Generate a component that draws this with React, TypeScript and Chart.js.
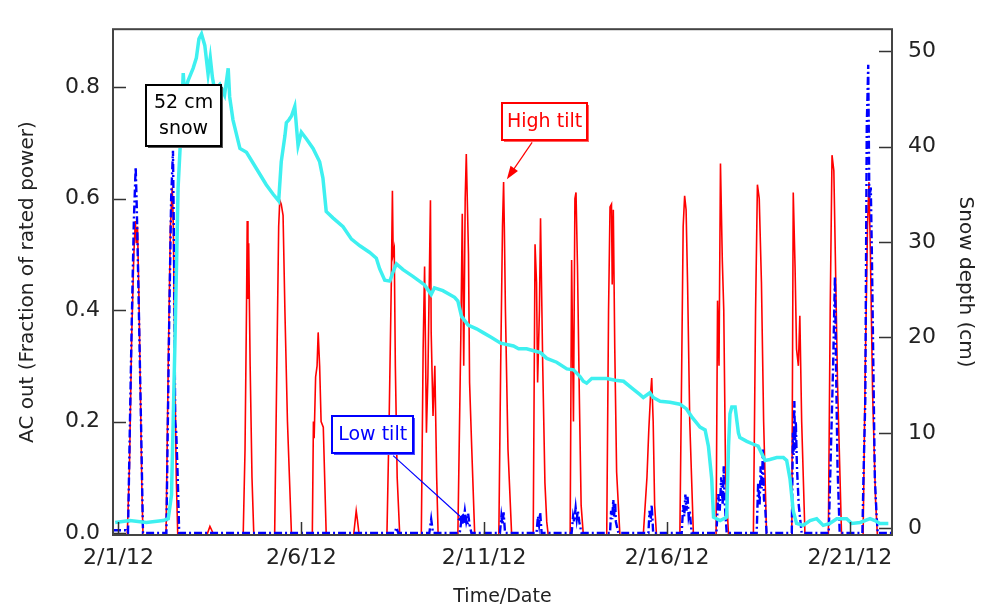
import { useEffect, useRef } from "react";
import { Chart, registerables } from "chart.js";

Chart.register(...registerables);

// ---- Data (x in days since 2/1/12 00:00) ----
const xTickDays = [0, 5, 10, 15, 20];
const xTickLabels = ["2/1/12", "2/6/12", "2/11/12", "2/16/12", "2/21/12"];
const acTicks = [0, 0.2, 0.4, 0.6, 0.8];
const acTickLabels = ["0.0", "0.2", "0.4", "0.6", "0.8"];
const snowTicks = [0, 10, 20, 30, 40, 50];

// night-time readings of the high-tilt array sit just under the axis line
const highTiltDay = [
  -0.15, 0.24, 0.3, 0.36, 0.42, 0.46, 0.49, 0.52, 0.56, 0.6, 0.64, 0.67,
  1.3, 1.36, 1.42, 1.47, 1.5, 1.54, 1.58, 1.62,
  2.42, 2.5, 2.55, 2.6,
  3.41, 3.46, 3.5, 3.52, 3.54, 3.56, 3.6, 3.65, 3.7,
  4.27, 4.33, 4.38, 4.41, 4.45, 4.5, 4.55, 4.62, 4.73,
  5.3, 5.33, 5.35, 5.39, 5.43, 5.46, 5.5, 5.54, 5.6, 5.68,
  6.43, 6.5, 6.53, 6.58,
  7.34, 7.4, 7.46, 7.49, 7.51, 7.54, 7.57, 7.62, 7.69,
  8.28, 8.33, 8.37, 8.42, 8.46, 8.53, 8.55, 8.6, 8.65, 8.7, 8.74,
  9.28, 9.36, 9.4, 9.44, 9.48, 9.51, 9.54, 9.57, 9.6, 9.66, 9.74,
  10.4, 10.45, 10.5, 10.53, 10.55, 10.58, 10.65, 10.75,
  11.34, 11.39, 11.43, 11.46, 11.51, 11.54, 11.6, 11.66, 11.71, 11.75,
  12.35, 12.39, 12.44, 12.48, 12.51, 12.55, 12.6, 12.65, 12.71,
  13.35, 13.4, 13.44, 13.48, 13.5, 13.53, 13.57, 13.62, 13.71,
  14.35, 14.45, 14.5, 14.55, 14.58, 14.62, 14.66, 14.71,
  15.35, 15.4, 15.44, 15.48, 15.52, 15.56, 15.62, 15.72,
  16.34, 16.38, 16.42, 16.46, 16.51, 16.55, 16.6, 16.68,
  17.36, 17.42, 17.47, 17.52, 17.58, 17.64, 17.72,
  18.41, 18.45, 18.5, 18.54, 18.59, 18.63, 18.68, 18.77,
  19.41, 19.46, 19.51, 19.56, 19.6, 19.66, 19.77,
  20.36, 20.42, 20.48, 20.52, 20.56, 20.62, 20.7, 20.75,
  21.15,
];
const highTiltAC = [
  -0.003, -0.003, 0.12, 0.35, 0.5, 0.56, 0.52, 0.55, 0.42, 0.25, 0.08, -0.003,
  -0.003, 0.3, 0.55, 0.62, 0.55, 0.3, 0.1, -0.003,
  -0.003, 0.012, 0.005, -0.003,
  -0.003, 0.15, 0.4, 0.56, 0.42, 0.52, 0.3, 0.1, -0.003,
  -0.003, 0.3, 0.55, 0.597, 0.59, 0.57, 0.4, 0.2, -0.003,
  -0.003, 0.2, 0.17, 0.28, 0.3, 0.36, 0.3, 0.2, 0.19, -0.003,
  -0.003, 0.04, 0.025, -0.003,
  -0.003, 0.2, 0.45, 0.614, 0.5, 0.51, 0.3, 0.1, -0.003,
  -0.003, 0.33, 0.478, 0.18, 0.28, 0.597, 0.36, 0.21, 0.3, 0.1, -0.003,
  -0.003, 0.35, 0.573, 0.3, 0.6, 0.68, 0.59, 0.5, 0.27, 0.15, -0.003,
  -0.003, 0.3, 0.55, 0.63, 0.55, 0.4, 0.15, -0.003,
  -0.003, 0.518, 0.45, 0.27, 0.4, 0.565, 0.3, 0.09, 0.02, -0.003,
  -0.003, 0.49, 0.2, 0.6, 0.611, 0.48, 0.25, 0.05, -0.003,
  -0.003, 0.4, 0.585, 0.59, 0.446, 0.58, 0.33, 0.11, -0.003,
  -0.003, 0.1, 0.185, 0.25, 0.278, 0.2, 0.05, -0.003,
  -0.003, 0.3, 0.55, 0.605, 0.58, 0.45, 0.2, -0.003,
  -0.003, 0.417, 0.3, 0.663, 0.49, 0.4, 0.1, -0.003,
  -0.003, 0.4, 0.625, 0.6, 0.45, 0.2, -0.003,
  -0.003, 0.611, 0.475, 0.33, 0.3, 0.39, 0.2, -0.003,
  -0.003, 0.4, 0.678, 0.65, 0.5, 0.27, -0.003,
  -0.003, 0.3, 0.55, 0.63, 0.5, 0.25, 0.06, -0.003,
  -0.003,
];

const lowTiltDay = [
  -0.15, 0.2, 0.26, 0.3, 0.36, 0.42, 0.47, 0.5, 0.56, 0.62, 0.67,
  1.31, 1.38, 1.44, 1.49, 1.52, 1.55, 1.58, 1.62, 1.66,
  7.55, 7.6, 7.65,
  8.5, 8.55, 8.6,
  9.33, 9.38, 9.42, 9.47, 9.51, 9.56, 9.6, 9.65,
  10.43, 10.47, 10.5, 10.53, 10.57,
  11.43, 11.47, 11.5, 11.53, 11.57,
  12.39, 12.43, 12.46, 12.5, 12.53, 12.56, 12.6, 12.66,
  13.44, 13.47, 13.5, 13.53, 13.55, 13.58, 13.6, 13.67,
  14.49, 14.52, 14.55, 14.58, 14.62,
  15.4, 15.44, 15.47, 15.5, 15.53, 15.56, 15.59, 15.62, 15.67,
  16.35, 16.4, 16.44, 16.48, 16.52, 16.55, 16.57, 16.6, 16.63,
  17.45, 17.49, 17.53, 17.56, 17.59, 17.62, 17.65, 17.68, 17.72,
  18.41, 18.44, 18.46, 18.48, 18.5, 18.52, 18.55, 18.6, 18.68,
  19.42, 19.48, 19.54, 19.59, 19.62, 19.66, 19.72,
  20.34, 20.37, 20.42, 20.46, 20.5, 20.53, 20.57, 20.6, 20.64, 20.68, 20.73, 20.76,
  21.15,
];
const lowTiltAC = [
  0.005, 0.005, 0, 0.15, 0.37, 0.56, 0.657, 0.585, 0.39, 0.185, 0,
  0, 0.35, 0.6, 0.686, 0.5, 0.2, 0.18, 0.1, 0,
  0, 0.01, 0,
  0, 0.025, 0,
  0, 0.025, 0.015, 0.04, 0.02, 0.035, 0.015, 0,
  0, 0.03, 0.015, 0.037, 0,
  0, 0.03, 0.015, 0.037, 0,
  0, 0.03, 0.02, 0.045, 0.025, 0.04, 0.02, 0,
  0, 0.04, 0.025, 0.06, 0.03, 0.055, 0.02, 0,
  0, 0.04, 0.02, 0.05, 0,
  0, 0.05, 0.03, 0.069, 0.04, 0.065, 0.03, 0.04, 0,
  0, 0.07, 0.04, 0.1, 0.05, 0.12, 0.06, 0.03, 0,
  0, 0.09, 0.05, 0.12, 0.08, 0.15, 0.06, 0.05, 0,
  0, 0.18, 0.14, 0.237, 0.15, 0.2, 0.12, 0.05, 0,
  0, 0.15, 0.3, 0.46, 0.3, 0.12, 0,
  0, 0.1, 0.24, 0.73, 0.84, 0.6, 0.62, 0.5, 0.3, 0.1, 0.03, 0,
  0,
];

const snowDay = [
  -0.09, 0.31, 0.76, 1.22, 1.36, 1.45, 1.54, 1.63, 1.72, 1.77, 1.81, 1.9, 2.04, 2.13, 2.2, 2.27,
  2.36, 2.45, 2.51, 2.57, 2.63, 2.77, 2.9, 3.0, 3.04, 3.13, 3.32, 3.5, 3.77, 4.04, 4.23, 4.38,
  4.45, 4.55, 4.59, 4.66, 4.73, 4.82, 4.91, 5.0, 5.14, 5.32, 5.5, 5.59, 5.68, 5.87, 6.14, 6.37,
  6.6, 6.87, 7.05, 7.14, 7.28, 7.42, 7.51, 7.6, 7.78, 8.05, 8.37, 8.55, 8.64, 8.87, 9.19, 9.28,
  9.38, 9.56, 9.79, 9.97, 10.2, 10.45, 10.8, 10.94, 11.16, 11.35, 11.54, 11.71, 11.98, 12.26,
  12.44, 12.62, 12.71, 12.8, 12.94, 13.17, 13.35, 13.58, 13.81, 14.03, 14.26, 14.35, 14.53,
  14.62, 14.81, 15.08, 15.35, 15.53, 15.67, 15.9, 16.04, 16.13, 16.22, 16.27, 16.45, 16.63,
  16.68, 16.72, 16.77, 16.86, 16.95, 16.99, 17.18, 17.36, 17.49, 17.59, 17.68, 17.81, 18.0,
  18.18, 18.27, 18.36, 18.45, 18.54, 18.72, 18.91, 19.09, 19.27, 19.45, 19.64, 19.91, 20.05,
  20.28, 20.55, 20.68, 20.82, 21.05,
];
const snowDepth = [
  0.6, 0.8, 0.6, 0.8, 1.0, 3.5, 18.8, 35.7, 42.5, 47.7, 45.5, 46.9, 48.2, 49.3, 51.3, 51.8,
  50.6, 47.6, 49.3, 47.2, 45.9, 46.5, 45.4, 48.2, 45.2, 42.8, 39.8, 39.4, 37.7, 36.0, 35.0, 34.3,
  38.4, 41.1, 42.5, 42.8, 43.2, 44.2, 40.1, 41.5, 40.8, 39.8, 38.4, 36.7, 33.2, 32.5, 31.6, 30.3,
  29.6, 28.9, 28.3, 27.2, 26.0, 25.9, 26.9, 27.7, 27.1, 26.4, 25.5, 24.5, 25.2, 24.9, 24.2, 23.8,
  22.2, 21.3, 20.9, 20.5, 20.0, 19.4, 19.1, 18.8, 18.8, 18.6, 18.4, 17.8, 17.4, 16.7,
  16.6, 15.9, 15.4, 15.2, 15.7, 15.7, 15.7, 15.5, 15.4, 14.7, 14.0, 13.7, 14.2,
  13.7, 13.3, 13.2, 13.0, 12.5, 11.7, 10.6, 10.3, 8.6, 5.2, 1.15, 0.8, 1.15,
  8.6, 12.0, 12.7, 12.7, 10.0, 9.5, 9.1, 8.8, 8.6, 7.8, 7.1, 7.2, 7.4,
  7.4, 7.1, 5.2, 1.8, 0.5, 0.3, 0.8, 1.0, 0.3, 0.5, 1.0, 1.0, 0.5,
  0.6, 1.0, 0.8, 0.5, 0.5,
];

const FONT = "'DejaVu Sans', Verdana, sans-serif";

function toPoints(xs: number[], ys: number[]) {
  return xs.map((x, i) => ({ x, y: ys[i] }));
}

function drawBox(
  ctx: CanvasRenderingContext2D,
  cx: number,
  cy: number,
  w: number,
  h: number,
  color: string,
  shadow: string,
  lines: string[]
) {
  const x = Math.round(cx - w / 2);
  const y = Math.round(cy - h / 2);
  ctx.fillStyle = shadow;
  ctx.fillRect(x + 2, y + 2, w, h);
  ctx.fillStyle = "#ffffff";
  ctx.fillRect(x, y, w, h);
  ctx.lineWidth = 2;
  ctx.strokeStyle = color;
  ctx.strokeRect(x, y, w, h);
  ctx.fillStyle = color;
  ctx.font = `19px ${FONT}`;
  ctx.textAlign = "center";
  ctx.textBaseline = "middle";
  const lh = 26;
  const start = cy - ((lines.length - 1) * lh) / 2;
  lines.forEach((t, i) => ctx.fillText(t, cx, start + i * lh));
}

function drawArrow(
  ctx: CanvasRenderingContext2D,
  x1: number,
  y1: number,
  x2: number,
  y2: number,
  color: string
) {
  const ang = Math.atan2(y2 - y1, x2 - x1);
  const hl = 13;
  const hw = 4.5;
  ctx.strokeStyle = color;
  ctx.lineWidth = 1.2;
  ctx.beginPath();
  ctx.moveTo(x1, y1);
  ctx.lineTo(x2 - Math.cos(ang) * hl * 0.8, y2 - Math.sin(ang) * hl * 0.8);
  ctx.stroke();
  ctx.fillStyle = color;
  ctx.beginPath();
  ctx.moveTo(x2, y2);
  ctx.lineTo(
    x2 - Math.cos(ang) * hl - Math.sin(ang) * hw,
    y2 - Math.sin(ang) * hl + Math.cos(ang) * hw
  );
  ctx.lineTo(
    x2 - Math.cos(ang) * hl + Math.sin(ang) * hw,
    y2 - Math.sin(ang) * hl - Math.cos(ang) * hw
  );
  ctx.closePath();
  ctx.fill();
}

const framePlugin = {
  id: "frameAndNotes",
  afterDatasetsDraw(chart: any) {
    const { ctx, chartArea: a, scales } = chart;
    const sx = scales.x;
    const sy = scales.y;
    const sy2 = scales.y2;
    ctx.save();
    // inward tick marks
    ctx.strokeStyle = "#333";
    ctx.lineWidth = 1.5;
    const L = 13;
    ctx.beginPath();
    for (const v of xTickDays) {
      const x = Math.round(sx.getPixelForValue(v)) + 0.5;
      ctx.moveTo(x, a.bottom);
      ctx.lineTo(x, a.bottom - L);
    }
    for (const v of acTicks) {
      const y = Math.round(sy.getPixelForValue(v)) + 0.5;
      ctx.moveTo(a.left, y);
      ctx.lineTo(a.left + L, y);
    }
    for (const v of snowTicks) {
      const y = Math.round(sy2.getPixelForValue(v)) + 0.5;
      ctx.moveTo(a.right, y);
      ctx.lineTo(a.right - L, y);
    }
    ctx.stroke();
    // frame
    ctx.lineWidth = 2;
    ctx.strokeStyle = "#444";
    ctx.strokeRect(a.left, a.top, a.right - a.left, a.bottom - a.top);

    // annotations (anchored in data coordinates)
    const px = (d: number) => sx.getPixelForValue(d);
    const py = (v: number) => sy.getPixelForValue(v);
    drawBox(ctx, px(1.78), py(0.749), 75, 61, "#000000", "#555555", ["52 cm", "snow"]);
    drawArrow(ctx, px(11.31), py(0.701), px(10.62), py(0.635), "#ff0000");
    drawBox(ctx, px(11.65), py(0.738), 85, 37, "#ff0000", "#ff6060", ["High tilt"]);
    drawArrow(ctx, px(7.51), py(0.139), px(9.61), py(0.014), "#0000ff");
    drawBox(ctx, px(6.95), py(0.1765), 81, 37, "#0000ff", "#5050ff", ["Low tilt"]);
    ctx.restore();
  },
};

export default function App() {
  const canvasRef = useRef<HTMLCanvasElement | null>(null);

  useEffect(() => {
    const canvas = canvasRef.current;
    if (!canvas) return;
    const chart = new Chart(canvas, {
      type: "line",
      data: {
        datasets: [
          {
            label: "Snow depth",
            data: toPoints(snowDay, snowDepth),
            yAxisID: "y2",
            borderColor: "#3ef0f0",
            borderWidth: 3.5,
            pointRadius: 0,
            tension: 0,
            order: 0,
          },
          {
            label: "Low tilt",
            data: toPoints(lowTiltDay, lowTiltAC),
            yAxisID: "y",
            borderColor: "#0000ff",
            borderWidth: 2.4,
            borderDash: [8, 3, 2, 3],
            pointRadius: 0,
            tension: 0,
            order: 1,
          },
          {
            label: "High tilt",
            data: toPoints(highTiltDay, highTiltAC),
            yAxisID: "y",
            borderColor: "#ff0000",
            borderWidth: 1.6,
            pointRadius: 0,
            tension: 0,
            order: 2,
          },
        ],
      },
      options: {
        responsive: false,
        animation: false,
        events: [],
        layout: { padding: { top: 13, left: 0, right: 0, bottom: 0 } },
        plugins: {
          legend: { display: false },
          tooltip: { enabled: false },
        },
        scales: {
          x: {
            type: "linear",
            position: "bottom",
            min: -0.15,
            max: 21.15,
            afterBuildTicks: (s: any) => {
              s.ticks = xTickDays.map((v) => ({ value: v }));
            },
            afterFit: (s: any) => {
              s.height = 73;
            },
            ticks: {
              autoSkip: false,
              maxRotation: 0,
              padding: 10,
              color: "#222",
              font: { family: FONT, size: 22 },
              callback: (v: any) => {
                const i = xTickDays.indexOf(Number(v));
                return i >= 0 ? xTickLabels[i] : "";
              },
            },
            grid: { display: false, drawTicks: false },
            border: { display: false },
            title: {
              display: true,
              text: "Time/Date",
              color: "#222",
              font: { family: FONT, size: 19 },
              padding: { top: 0, bottom: 0 },
            },
          },
          y: {
            type: "linear",
            position: "left",
            min: -0.0035,
            max: 0.904,
            afterBuildTicks: (s: any) => {
              s.ticks = acTicks.map((v) => ({ value: v }));
            },
            afterFit: (s: any) => {
              s.width = 113;
            },
            ticks: {
              padding: 13,
              color: "#222",
              font: { family: FONT, size: 22 },
              callback: (v: any) => {
                const i = acTicks.indexOf(Number(v));
                return i >= 0 ? acTickLabels[i] : "";
              },
            },
            grid: { display: false, drawTicks: false },
            border: { display: false },
            title: {
              display: true,
              text: "AC out (Fraction of rated power)",
              color: "#222",
              font: { family: FONT, size: 20 },
              padding: { top: 16, bottom: 0 },
            },
          },
          y2: {
            type: "linear",
            position: "right",
            min: -0.71,
            max: 52.3,
            afterBuildTicks: (s: any) => {
              s.ticks = snowTicks.map((v) => ({ value: v }));
            },
            afterFit: (s: any) => {
              s.width = 102;
            },
            ticks: {
              padding: 16,
              color: "#222",
              font: { family: FONT, size: 22 },
              callback: (v: any) => String(v),
            },
            grid: { display: false, drawTicks: false },
            border: { display: false },
            title: {
              display: true,
              text: "Snow depth (cm)",
              color: "#222",
              font: { family: FONT, size: 20 },
              padding: { top: 17, bottom: 0 },
            },
          },
        },
      },
      plugins: [framePlugin],
    } as any);
    return () => chart.destroy();
  }, []);

  return (
    <div style={{ position: "fixed", left: 0, top: 0, width: 994, height: 608, background: "#fff" }}>
      <canvas ref={canvasRef} width={994} height={608} style={{ display: "block" }} />
    </div>
  );
}
